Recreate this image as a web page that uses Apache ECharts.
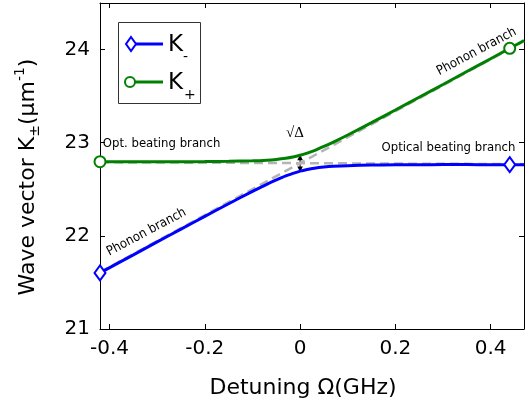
<!DOCTYPE html>
<html><head><meta charset="utf-8">
<script src="https://cdn.jsdelivr.net/npm/echarts@6/dist/echarts.min.js"></script>
<style>html,body{margin:0;padding:0;background:#fff}#c{width:532px;height:408px}</style>
</head><body><div id="c"></div><script>
// ---- data ----
const detuning = [-0.42,-0.35,-0.30,-0.25,-0.20,-0.15,-0.10,-0.07,-0.05,-0.03,-0.015,0,0.015,0.03,0.05,0.07,0.10,0.15,0.20,0.25,0.30,0.35,0.40,0.44,0.47];
const kMinus = [21.602,21.796,21.935,22.072,22.209,22.345,22.477,22.553,22.600,22.644,22.670,22.695,22.713,22.727,22.739,22.747,22.754,22.760,22.763,22.764,22.765,22.765,22.764,22.764,22.764];
const kPlus  = [22.796,22.795,22.795,22.796,22.797,22.800,22.806,22.813,22.821,22.833,22.846,22.865,22.889,22.916,22.960,23.007,23.083,23.215,23.351,23.488,23.625,23.764,23.902,24.013,24.097];
const markerAt = [-0.42, 0.44];
const opticalX = [-0.42, 0.47];
const opticalK = [22.79, 22.77];
const phononX = [-0.42, 0.47];
const phononK = [21.61, 24.09];
const gapX = 0;
const gapK = [22.685, 22.872];
const xTicks = [-0.4, -0.2, 0, 0.2, 0.4];
const xTickLabels = ['-0.4', '-0.2', '0', '0.2', '0.4'];
const yTicks = [21, 22, 23, 24];
const yTickLabels = ['21', '22', '23', '24'];
const xRange = [-0.42, 0.47];
const yRange = [21, 24.5];
const annText = ['Opt. beating branch', 'Optical beating branch', 'Phonon branch', 'Phonon branch', '√Δ'];
const annX = [-0.414, 0.3115, -0.3224, 0.3703, -0.011];
const annK = [22.985, 22.942, 22.04, 23.978, 23.10];
const annAngle = [0, 0, 28, 28, 0];

// ---- build ----
const BLUE = '#0000ff', GREEN = '#008000', GRAY = '#b4b4b4';
function pts(xs, ys, sym) {
  return xs.map((x, i) => ({ value: [x, ys[i]], symbol: markerAt.includes(x) ? sym : 'none' }));
}
function pairs(xs, ys) { return xs.map((x, i) => [x, ys[i]]); }
const tickFont = { fontFamily: 'DejaVu Sans', fontSize: 20, color: '#000' };
const xLab = v => { const i = xTicks.indexOf(v); return i >= 0 ? xTickLabels[i] : ''; };
const yLab = v => { const i = yTicks.indexOf(v); return i >= 0 ? yTickLabels[i] : ''; };
const axBase = {
  axisLine: { show: true, onZero: false, lineStyle: { color: '#000', width: 1 } },
  splitLine: { show: false }
};
const chart = echarts.init(document.getElementById('c'), null, { renderer: 'canvas' });
chart.setOption({
  animation: false,
  backgroundColor: '#fff',
  grid: { left: 100, right: 8, top: 3, bottom: 79, containLabel: false },
  xAxis: [
    Object.assign({ type: 'value', min: xRange[0], max: xRange[1], position: 'bottom',
      axisTick: { inside: true, length: 5, customValues: xTicks, lineStyle: { color: '#000' } },
      axisLabel: Object.assign({ customValues: xTicks, formatter: xLab, margin: 10 }, tickFont) }, axBase),
    Object.assign({ type: 'value', min: xRange[0], max: xRange[1], position: 'top',
      axisTick: { inside: true, length: 5, customValues: xTicks, lineStyle: { color: '#000' } },
      axisLabel: { show: false } }, axBase)
  ],
  yAxis: [
    Object.assign({ type: 'value', min: yRange[0], max: yRange[1], position: 'left',
      axisTick: { inside: true, length: 5, customValues: yTicks, lineStyle: { color: '#000' } },
      axisLabel: Object.assign({ customValues: yTicks, formatter: yLab, margin: 10 }, tickFont) }, axBase),
    Object.assign({ type: 'value', min: yRange[0], max: yRange[1], position: 'right',
      axisTick: { inside: true, length: 5, customValues: yTicks, lineStyle: { color: '#000' } },
      axisLabel: { show: false } }, axBase)
  ],
  series: [
    { name: 'optical', type: 'line', data: pairs(opticalX, opticalK), showSymbol: false, silent: true,
      lineStyle: { color: GRAY, width: 2.5, type: [9, 5] }, z: 1 },
    { name: 'phonon', type: 'line', data: pairs(phononX, phononK), showSymbol: false, silent: true,
      lineStyle: { color: GRAY, width: 2.5, type: [9, 5] }, z: 1 },
    { name: 'K+', type: 'line', data: pts(detuning, kPlus, 'circle'), smooth: 0.3, showAllSymbol: true,
      symbolSize: 11, lineStyle: { color: GREEN, width: 3 },
      itemStyle: { color: '#fff', borderColor: GREEN, borderWidth: 2 }, z: 3, silent: true },
    { name: 'K-', type: 'line', data: pts(detuning, kMinus, 'diamond'), smooth: 0.3, showAllSymbol: true,
      symbolSize: [11, 15], lineStyle: { color: BLUE, width: 3 },
      itemStyle: { color: '#fff', borderColor: BLUE, borderWidth: 2 }, z: 4, silent: true }
  ]
});

// ---- text, titles, arrow and legend ----
const cv = document.createElement('canvas').getContext('2d');
function tw(t, size, fam) { cv.font = size + 'px "' + fam + '"'; return cv.measureText(t).width; }
const graphics = [];
annText.forEach((t, i) => {
  const p = chart.convertToPixel({ gridIndex: 0 }, [annX[i], annK[i]]);
  const serif = t === '√Δ';
  graphics.push({ type: 'text', x: p[0], y: p[1], rotation: annAngle[i] * Math.PI / 180, z: 10,
    style: { text: t, fontFamily: serif ? 'Liberation Serif' : 'DejaVu Sans Condensed', fontSize: serif ? 15 : 13,
      fill: '#000', align: i === 0 ? 'left' : 'center', verticalAlign: 'middle' } });
});
// double-headed gap arrow
const pa = chart.convertToPixel({ gridIndex: 0 }, [gapX, gapK[0]]);
const pb = chart.convertToPixel({ gridIndex: 0 }, [gapX, gapK[1]]);
graphics.push({ type: 'group', z: 15, silent: true, children: [
  { type: 'line', shape: { x1: pa[0], y1: pa[1] - 3, x2: pb[0], y2: pb[1] + 3 }, style: { stroke: '#000', lineWidth: 1 } },
  { type: 'polygon', shape: { points: [[pa[0], pa[1]], [pa[0] - 2.8, pa[1] - 5.5], [pa[0] + 2.8, pa[1] - 5.5]] }, style: { fill: '#000' } },
  { type: 'polygon', shape: { points: [[pb[0], pb[1]], [pb[0] - 2.8, pb[1] + 5.5], [pb[0] + 2.8, pb[1] + 5.5]] }, style: { fill: '#000' } }
] });
graphics.push({ type: 'text', x: 303, y: 388, style: { text: 'Detuning Ω(GHz)', fontFamily: 'DejaVu Sans', fontSize: 22,
  fill: '#000', align: 'center', verticalAlign: 'middle' } });
const ySegs = [
  { t: 'Wave vector K', s: 22, dy: 0 },
  { t: '±', s: 14, dy: 7 },
  { t: '(μm', s: 22, dy: 0 },
  { t: '-1', s: 14, dy: -8 },
  { t: ')', s: 22, dy: 0 }
];
let total = 0; ySegs.forEach(g => { g.w = tw(g.t, g.s, 'DejaVu Sans'); total += g.w; });
let cx = 0; const ych = [];
ySegs.forEach(g => { ych.push({ type: 'text', x: cx, y: g.dy, style: { text: g.t, fontFamily: 'DejaVu Sans', fontSize: g.s,
  fill: '#000', align: 'left', verticalAlign: 'middle' } }); cx += g.w; });
graphics.push({ type: 'group', x: 28, y: 177 + total / 2, rotation: Math.PI / 2, children: ych });
graphics.push({ type: 'group', z: 20, children: [
  { type: 'rect', shape: { x: 118.5, y: 22.5, width: 82, height: 81 }, style: { fill: '#fff', stroke: '#333', lineWidth: 1 } },
  { type: 'line', shape: { x1: 131, y1: 44, x2: 163, y2: 44 }, style: { stroke: BLUE, lineWidth: 3 } },
  { type: 'polygon', shape: { points: [[131, 37], [136, 44], [131, 51], [126, 44]] }, style: { fill: '#fff', stroke: BLUE, lineWidth: 2 } },
  { type: 'text', x: 168, y: 45, style: { text: 'K', fontFamily: 'DejaVu Sans', fontSize: 23, fill: '#000', verticalAlign: 'middle' } },
  { type: 'text', x: 183, y: 57, style: { text: '-', fontFamily: 'DejaVu Sans', fontSize: 14, fill: '#000', verticalAlign: 'middle' } },
  { type: 'line', shape: { x1: 130, y1: 82, x2: 163, y2: 82 }, style: { stroke: GREEN, lineWidth: 3 } },
  { type: 'circle', shape: { cx: 130, cy: 82, r: 5 }, style: { fill: '#fff', stroke: GREEN, lineWidth: 2 } },
  { type: 'text', x: 168, y: 83, style: { text: 'K', fontFamily: 'DejaVu Sans', fontSize: 23, fill: '#000', verticalAlign: 'middle' } },
  { type: 'text', x: 184, y: 95, style: { text: '+', fontFamily: 'DejaVu Sans', fontSize: 14, fill: '#000', verticalAlign: 'middle' } }
] });
chart.setOption({ graphic: graphics });
</script></body></html>
